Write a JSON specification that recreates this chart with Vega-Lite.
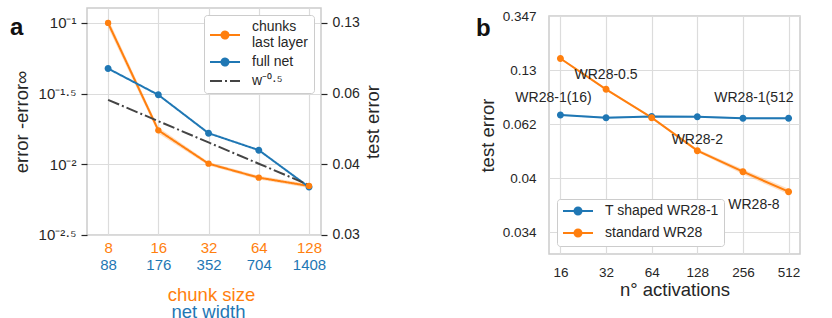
{
  "$schema": "https://vega.github.io/schema/vega-lite/v6.json",
  "padding": {"left": 9, "top": 7, "right": 0, "bottom": 0},
  "spacing": 92,
  "resolve": {"scale": {"color": "independent", "shape": "independent", "strokeDash": "independent"}, "legend": {"color": "independent", "shape": "independent", "strokeDash": "independent"}},
  "config": {
    "font": "Liberation Sans",
    "view": {"stroke": "#cccccc", "strokeWidth": 1.5},
    "axis": {"labelColor": "#262626", "titleColor": "#262626", "titleFontWeight": "normal", "gridColor": "#dcdcdc", "gridWidth": 1.2, "domain": false, "ticks": false, "titleFontSize": 18.5, "labelFontSize": 14, "labelOverlap": false, "labelFlush": false}
  },
  "datasets": {
    "a_lines": [
      {"series": "chunks last layer", "x": 8, "value": 0.1},
      {"series": "chunks last layer", "x": 16, "value": 0.0174},
      {"series": "chunks last layer", "x": 32, "value": 0.0101},
      {"series": "chunks last layer", "x": 64, "value": 0.00805},
      {"series": "chunks last layer", "x": 128, "value": 0.00703},
      {"series": "full net", "x": 8, "value": 0.0476},
      {"series": "full net", "x": 16, "value": 0.031},
      {"series": "full net", "x": 32, "value": 0.0166},
      {"series": "full net", "x": 64, "value": 0.0126},
      {"series": "full net", "x": 128, "value": 0.0069},
      {"series": "w⁻⁰·⁵", "x": 8, "value": 0.0286},
      {"series": "w⁻⁰·⁵", "x": 16, "value": 0.0202},
      {"series": "w⁻⁰·⁵", "x": 32, "value": 0.01428},
      {"series": "w⁻⁰·⁵", "x": 64, "value": 0.0101},
      {"series": "w⁻⁰·⁵", "x": 128, "value": 0.00714}
    ],
    "a_band": [
      {"x": 8, "lo": 0.093, "hi": 0.107},
      {"x": 16, "lo": 0.0165, "hi": 0.0183},
      {"x": 32, "lo": 0.0098, "hi": 0.0104},
      {"x": 64, "lo": 0.0078, "hi": 0.0083},
      {"x": 128, "lo": 0.0068, "hi": 0.00725}
    ],
    "a_tag": [{"tag": "a", "x": 2.065, "value": 0.0822}],
    "b_tag": [{"tag": "b", "x": 4.44, "value": 0.208}],
    "b_lines": [
      {"series": "T shaped WR28-1", "x": 16, "value": 0.0385},
      {"series": "T shaped WR28-1", "x": 32, "value": 0.0363},
      {"series": "T shaped WR28-1", "x": 64, "value": 0.0373},
      {"series": "T shaped WR28-1", "x": 128, "value": 0.0371},
      {"series": "T shaped WR28-1", "x": 256, "value": 0.0358},
      {"series": "T shaped WR28-1", "x": 512, "value": 0.0358},
      {"series": "standard WR28", "x": 16, "value": 0.128},
      {"series": "standard WR28", "x": 32, "value": 0.0664},
      {"series": "standard WR28", "x": 64, "value": 0.0363},
      {"series": "standard WR28", "x": 128, "value": 0.018},
      {"series": "standard WR28", "x": 256, "value": 0.0115},
      {"series": "standard WR28", "x": 512, "value": 0.00752}
    ],
    "b_band": [
      {"series": "T shaped WR28-1", "x": 16, "lo": 0.0378, "hi": 0.0392},
      {"series": "T shaped WR28-1", "x": 32, "lo": 0.0356, "hi": 0.037},
      {"series": "T shaped WR28-1", "x": 64, "lo": 0.0366, "hi": 0.038},
      {"series": "T shaped WR28-1", "x": 128, "lo": 0.0364, "hi": 0.0378},
      {"series": "T shaped WR28-1", "x": 256, "lo": 0.0351, "hi": 0.0365},
      {"series": "T shaped WR28-1", "x": 512, "lo": 0.0351, "hi": 0.0365},
      {"series": "standard WR28", "x": 16, "lo": 0.1255, "hi": 0.1305},
      {"series": "standard WR28", "x": 32, "lo": 0.065, "hi": 0.0678},
      {"series": "standard WR28", "x": 64, "lo": 0.0356, "hi": 0.037},
      {"series": "standard WR28", "x": 128, "lo": 0.0175, "hi": 0.0186},
      {"series": "standard WR28", "x": 256, "lo": 0.0109, "hi": 0.0121},
      {"series": "standard WR28", "x": 512, "lo": 0.0071, "hi": 0.008}
    ],
    "b_labels": [
      {"label": "WR28-1(16)", "x": 14.4, "value": 0.0556, "align": "center"},
      {"label": "WR28-0.5", "x": 32, "value": 0.0893, "align": "left"},
      {"label": "WR28-1(512", "x": 302.6, "value": 0.0556, "align": "left"},
      {"label": "WR28-2", "x": 128, "value": 0.02275, "align": "left"},
      {"label": "WR28-8", "x": 302.6, "value": 0.00562, "align": "left"}
    ]
  },
  "hconcat": [
    {
      "width": 234,
      "height": 227,
      "resolve": {"axis": {"x": "independent", "y": "independent"}},
      "layer": [
        {
          "data": {"name": "a_band"},
          "mark": {"type": "area", "color": "#ff7f0e", "opacity": 0.25},
          "encoding": {
            "x": {"field": "x", "type": "quantitative", "scale": {"type": "log", "base": 2, "domain": [5.98, 151], "nice": false},
              "axis": {"orient": "bottom", "values": [8, 16, 32, 64, 128], "grid": true, "labelColor": "#ff7f0e", "labelFontSize": 15, "labelPadding": 5, "title": "chunk size", "titleColor": "#ff7f0e", "titlePadding": 30, "titleX": 124}},
            "y": {"field": "lo", "type": "quantitative", "scale": {"type": "log", "domain": [0.003162, 0.1276], "nice": false},
              "axis": {"orient": "left", "values": [0.1, 0.0316228, 0.01, 0.00316228], "grid": true, "ticks": true, "tickSize": 6, "tickColor": "#262626", "tickWidth": 1.2, "labelFontSize": 15, "labelPadding": 5,
                "labelExpr": "datum.value > 0.05 ? '10⁻¹' : datum.value > 0.02 ? '10⁻¹·⁵' : datum.value > 0.005 ? '10⁻²' : '10⁻²·⁵'",
                "title": "error -error∞", "titlePadding": 7}},
            "y2": {"field": "hi"}
          }
        },
        {
          "data": {"name": "a_lines"},
          "mark": {"type": "line", "strokeWidth": 2},
          "encoding": {
            "x": {"field": "x", "type": "quantitative",
              "axis": {"orient": "bottom", "values": [8, 16, 32, 64, 128], "grid": false, "offset": 17, "labelColor": "#1f77b4", "labelFontSize": 15, "labelPadding": 5,
                "labelExpr": "datum.value == 8 ? '88' : datum.value == 16 ? '176' : datum.value == 32 ? '352' : datum.value == 64 ? '704' : '1408'",
                "title": "net width", "titleColor": "#1f77b4", "titlePadding": 30, "titleX": 121}},
            "y": {"field": "value", "type": "quantitative",
              "axis": {"orient": "right", "values": [0.1, 0.0316228, 0.01, 0.00316228], "grid": false, "ticks": true, "tickSize": 6, "tickColor": "#262626", "tickWidth": 1.2, "labelFontSize": 14, "labelPadding": 5,
                "labelExpr": "datum.value > 0.05 ? '0.13' : datum.value > 0.02 ? '0.06' : datum.value > 0.005 ? '0.04' : '0.03'",
                "title": "test error", "titleAngle": 270, "titleBaseline": "top", "titlePadding": 4}},
            "color": {"field": "series", "type": "nominal", "scale": {"domain": ["chunks last layer", "full net", "w⁻⁰·⁵"], "range": ["#ff7f0e", "#1f77b4", "#444444"]},
              "legend": {"title": null, "orient": "top-right", "offset": 7, "fillColor": "white", "strokeColor": "#cccccc", "cornerRadius": 3, "padding": 5, "labelFontSize": 14, "labelColor": "#262626", "symbolSize": 100, "symbolStrokeWidth": 2, "symbolOffset": 9, "labelOffset": 20, "rowPadding": 4,
                "labelExpr": "datum.label == 'chunks last layer' ? ['chunks', 'last layer'] : datum.label"}},
            "strokeDash": {"field": "series", "type": "nominal", "scale": {"domain": ["chunks last layer", "full net", "w⁻⁰·⁵"], "range": [[1, 0], [1, 0], [12, 3, 2, 3]]},
              "legend": {"title": null, "orient": "top-right", "offset": 7, "fillColor": "white", "strokeColor": "#cccccc", "cornerRadius": 3, "padding": 5, "labelFontSize": 14, "labelColor": "#262626", "symbolSize": 100, "symbolStrokeWidth": 2, "symbolOffset": 9, "labelOffset": 20, "rowPadding": 4,
                "labelExpr": "datum.label == 'chunks last layer' ? ['chunks', 'last layer'] : datum.label"}}
          }
        },
        {
          "data": {"name": "a_lines"},
          "transform": [{"filter": "datum.series == 'full net'"}],
          "mark": {"type": "point", "filled": true, "size": 100, "opacity": 1},
          "encoding": {
            "x": {"field": "x", "type": "quantitative", "axis": null},
            "y": {"field": "value", "type": "quantitative", "axis": null},
            "color": {"field": "series", "type": "nominal", "scale": {"domain": ["chunks last layer", "full net", "w⁻⁰·⁵"], "range": ["#ff7f0e", "#1f77b4", "#444444"]},
              "legend": {"title": null, "orient": "top-right", "offset": 7, "fillColor": "white", "strokeColor": "#cccccc", "cornerRadius": 3, "padding": 5, "labelFontSize": 14, "labelColor": "#262626", "symbolSize": 100, "symbolStrokeWidth": 2, "symbolOffset": 9, "labelOffset": 20, "rowPadding": 4,
                "labelExpr": "datum.label == 'chunks last layer' ? ['chunks', 'last layer'] : datum.label"}},
            "shape": {"field": "series", "type": "nominal", "scale": {"domain": ["chunks last layer", "full net", "w⁻⁰·⁵"], "range": ["M-3,1.6H3M0.7,1.6A0.7,0.7,0,1,1,-0.7,1.6A0.7,0.7,0,1,1,0.7,1.6", "M-3,0H3M0.7,0A0.7,0.7,0,1,1,-0.7,0A0.7,0.7,0,1,1,0.7,0", "M-3,0H3"]},
              "legend": {"title": null, "orient": "top-right", "offset": 7, "fillColor": "white", "strokeColor": "#cccccc", "cornerRadius": 3, "padding": 5, "labelFontSize": 14, "labelColor": "#262626", "symbolSize": 100, "symbolStrokeWidth": 2, "symbolOffset": 9, "labelOffset": 20, "rowPadding": 4,
                "labelExpr": "datum.label == 'chunks last layer' ? ['chunks', 'last layer'] : datum.label"}}
          }
        },
        {
          "data": {"name": "a_lines"},
          "transform": [{"filter": "datum.series == 'chunks last layer'"}],
          "mark": {"type": "point", "filled": true, "shape": "circle", "size": 40, "opacity": 1, "color": "#ff7f0e"},
          "encoding": {
            "x": {"field": "x", "type": "quantitative", "axis": null},
            "y": {"field": "value", "type": "quantitative", "axis": null}
          }
        },
        {
          "data": {"name": "a_tag"},
          "mark": {"type": "text", "fontSize": 24, "fontWeight": "bold", "color": "#111111", "align": "left", "baseline": "alphabetic"},
          "encoding": {
            "x": {"field": "x", "type": "quantitative", "axis": null},
            "y": {"field": "value", "type": "quantitative", "axis": null},
            "text": {"field": "tag"}
          }
        }
      ]
    },
    {
      "spacing": -1,
      "resolve": {"scale": {"color": "independent", "shape": "independent"}, "legend": {"color": "independent", "shape": "independent"}},
      "vconcat": [
        {
          "width": 1,
          "height": 1,
          "view": {"stroke": null},
          "data": {"values": []},
          "mark": "point"
        },
        {
          "width": 251,
          "height": 238,
          "layer": [
            {
              "data": {"name": "b_band"},
              "transform": [{"filter": "datum.series == 'T shaped WR28-1'"}],
              "mark": {"type": "area", "opacity": 0.25, "color": "#1f77b4"},
              "encoding": {
                "x": {"field": "x", "type": "quantitative", "scale": {"type": "log", "base": 2, "domain": [13.45, 608.9], "nice": false},
                  "axis": {"values": [16, 32, 64, 128, 256, 512], "grid": true, "labelFontSize": 13.5, "labelPadding": 11, "title": "n° activations", "titlePadding": 2}},
                "y": {"field": "lo", "type": "quantitative", "scale": {"type": "log", "domain": [0.0019953, 0.31625], "nice": false},
                  "axis": {"values": [0.316228, 0.1, 0.0316228, 0.01, 0.00316228], "grid": true, "labelFontSize": 13.5, "labelPadding": 13,
                    "labelExpr": "datum.value > 0.2 ? '0.347' : datum.value > 0.05 ? '0.13' : datum.value > 0.02 ? '0.062' : datum.value > 0.005 ? '0.04' : '0.034'",
                    "title": "test error", "titlePadding": 5}},
                "y2": {"field": "hi"}
              }
            },
            {
              "data": {"name": "b_band"},
              "transform": [{"filter": "datum.series == 'standard WR28'"}],
              "mark": {"type": "area", "opacity": 0.25, "color": "#ff7f0e"},
              "encoding": {
                "x": {"field": "x", "type": "quantitative"},
                "y": {"field": "lo", "type": "quantitative"},
                "y2": {"field": "hi"}
              }
            },
            {
              "data": {"name": "b_lines"},
              "mark": {"type": "line", "strokeWidth": 2},
              "encoding": {
                "x": {"field": "x", "type": "quantitative"},
                "y": {"field": "value", "type": "quantitative"},
                "color": {"field": "series", "type": "nominal", "scale": {"domain": ["T shaped WR28-1", "standard WR28"], "range": ["#1f77b4", "#ff7f0e"]},
                  "legend": {"title": null, "orient": "bottom-left", "offset": 8, "fillColor": "white", "strokeColor": "#cccccc", "cornerRadius": 3, "padding": 5, "labelFontSize": 14, "labelColor": "#262626", "symbolSize": 100, "symbolStrokeWidth": 2, "symbolOffset": 9, "labelOffset": 20, "rowPadding": 6}}
              }
            },
            {
              "data": {"name": "b_lines"},
              "mark": {"type": "point", "filled": true, "size": 100, "opacity": 1},
              "encoding": {
                "x": {"field": "x", "type": "quantitative"},
                "y": {"field": "value", "type": "quantitative"},
                "color": {"field": "series", "type": "nominal", "scale": {"domain": ["T shaped WR28-1", "standard WR28"], "range": ["#1f77b4", "#ff7f0e"]},
                  "legend": {"title": null, "orient": "bottom-left", "offset": 8, "fillColor": "white", "strokeColor": "#cccccc", "cornerRadius": 3, "padding": 5, "labelFontSize": 14, "labelColor": "#262626", "symbolSize": 100, "symbolStrokeWidth": 2, "symbolOffset": 9, "labelOffset": 20, "rowPadding": 6}},
                "shape": {"field": "series", "type": "nominal", "scale": {"domain": ["T shaped WR28-1", "standard WR28"], "range": ["M-3,0H3M0.7,0A0.7,0.7,0,1,1,-0.7,0A0.7,0.7,0,1,1,0.7,0", "M-3,0H3M0.7,0A0.7,0.7,0,1,1,-0.7,0A0.7,0.7,0,1,1,0.7,0"]},
                  "legend": {"title": null, "orient": "bottom-left", "offset": 8, "fillColor": "white", "strokeColor": "#cccccc", "cornerRadius": 3, "padding": 5, "labelFontSize": 14, "labelColor": "#262626", "symbolSize": 100, "symbolStrokeWidth": 2, "symbolOffset": 9, "labelOffset": 20, "rowPadding": 6}}
              }
            },
            {
              "data": {"name": "b_labels"},
              "mark": {"type": "text", "fontSize": 14, "color": "#262626", "baseline": "middle"},
              "encoding": {
                "x": {"field": "x", "type": "quantitative"},
                "y": {"field": "value", "type": "quantitative"},
                "text": {"field": "label"},
                "align": {"field": "align"}
              }
            },
            {
              "data": {"name": "b_tag"},
              "mark": {"type": "text", "fontSize": 24, "fontWeight": "bold", "color": "#111111", "align": "left", "baseline": "alphabetic"},
              "encoding": {
                "x": {"field": "x", "type": "quantitative"},
                "y": {"field": "value", "type": "quantitative"},
                "text": {"field": "tag"}
              }
            }
          ]
        }
      ]
    }
  ]
}
